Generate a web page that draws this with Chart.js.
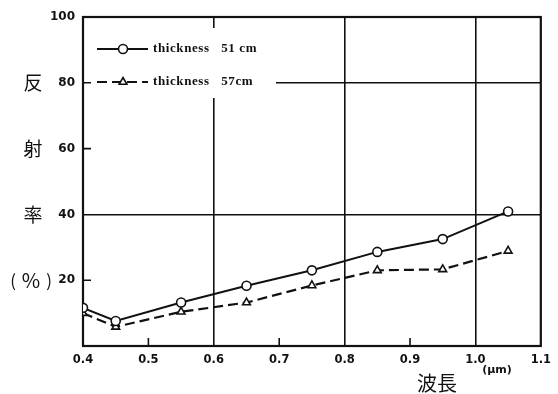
<!DOCTYPE html>
<html>
<head>
<meta charset="utf-8">
<script src="https://cdn.jsdelivr.net/npm/chart.js@4/dist/chart.umd.min.js"></script>
<style>
  html, body { margin: 0; padding: 0; background: #fff; }
  #wrap { width: 558px; height: 394px; }
</style>
</head>
<body>
<div id="wrap"><canvas id="c" width="558" height="394"></canvas></div>
<script>
// Wavelength (µm) and reflectance (%) for two sample thicknesses
const wavelengths = [0.4, 0.45, 0.55, 0.65, 0.75, 0.85, 0.95, 1.05];
const reflect51 = [11.6, 7.6, 13.2, 18.3, 23.0, 28.6, 32.5, 40.9];
const reflect57 = [10.0, 5.8, 10.4, 13.2, 18.4, 23.0, 23.3, 28.9];
const seriesLabels = ['thickness   51 cm', 'thickness   57cm'];
const xTicks = [0.4, 0.5, 0.6, 0.7, 0.8, 0.9, 1.0, 1.1];
const yTicks = [0, 20, 40, 60, 80, 100];
const yTitleChars = ['反', '射', '率'];
const yTitleUnit = ['(', '%', ')'];
const xTitle = '波長';
const xUnit = '(μm)';

// full-height reference lines; the remaining ticks get short inward marks
const gridX = [0.6, 0.8, 1.0];
const gridY = [40, 80];

const near = (a, list) => list.some(v => Math.abs(v - a) < 1e-6);
const toPoints = ys => ys.map((y, i) => ({ x: wavelengths[i], y }));

const framePlugin = {
  id: 'frame',
  beforeDatasetsDraw(chart) {
    const { ctx, chartArea: a, scales: { x, y } } = chart;
    ctx.save();
    ctx.strokeStyle = '#111';
    // inward tick marks
    ctx.lineWidth = 1.6;
    ctx.beginPath();
    xTicks.forEach(v => {
      if (near(v, gridX) || v === xTicks[0] || v === xTicks[xTicks.length - 1]) return;
      const px = x.getPixelForValue(v);
      ctx.moveTo(px, a.bottom); ctx.lineTo(px, a.bottom - 8);
    });
    yTicks.forEach(v => {
      if (near(v, gridY) || v === yTicks[0] || v === yTicks[yTicks.length - 1]) return;
      const py = y.getPixelForValue(v);
      ctx.moveTo(a.left, py); ctx.lineTo(a.left + 8, py);
    });
    ctx.stroke();
    // frame
    ctx.lineWidth = 2.2;
    ctx.strokeRect(a.left, a.top, a.right - a.left, a.bottom - a.top);
    ctx.restore();
  }
};

const legendPlugin = {
  id: 'boxLegend',
  beforeDatasetsDraw(chart) {
    const { ctx, chartArea: a } = chart;
    ctx.save();
    ctx.fillStyle = '#fff';
    ctx.fillRect(a.left + 8, a.top + 11, 185, 70);
    ctx.restore();
  },
  afterDatasetsDraw(chart) {
    const { ctx, chartArea: a } = chart;
    ctx.save();
    chart.data.datasets.forEach((ds, i) => {
      const yy = a.top + 32 + i * 33;
      const x0 = a.left + 14, x1 = a.left + 65, xm = a.left + 40;
      ctx.strokeStyle = ds.borderColor;
      ctx.lineWidth = ds.borderWidth;
      ctx.setLineDash(ds.borderDash || []);
      ctx.beginPath(); ctx.moveTo(x0, yy); ctx.lineTo(x1, yy); ctx.stroke();
      ctx.setLineDash([]);
      ctx.fillStyle = ds.pointBackgroundColor;
      ctx.strokeStyle = ds.pointBorderColor;
      ctx.lineWidth = ds.pointBorderWidth;
      Chart.helpers.drawPoint(ctx, {
        pointStyle: ds.pointStyle, radius: ds.pointRadius,
        rotation: 0, borderWidth: ds.pointBorderWidth
      }, xm, yy);
      ctx.fillStyle = '#111';
      ctx.font = 'bold 13px "Liberation Serif"';
      ctx.letterSpacing = '0.6px';
      ctx.textBaseline = 'middle';
      ctx.textAlign = 'left';
      ctx.fillText(ds.label, a.left + 70, yy);
    });
    ctx.restore();
  }
};

const titlePlugin = {
  id: 'axisTitles',
  afterDraw(chart) {
    const { ctx, scales: { y } } = chart;
    ctx.save();
    ctx.fillStyle = '#111';
    ctx.textAlign = 'center';
    ctx.textBaseline = 'middle';
    ctx.font = '19px "Noto Sans CJK JP"';
    yTitleChars.forEach((ch, i) => {
      ctx.fillText(ch, 33, y.getPixelForValue(yTicks[4 - i]));
    });
    const py = y.getPixelForValue(yTicks[1]);
    yTitleUnit.forEach((ch, i) => {
      ctx.font = (ch === '%' ? '20px' : '17px') + ' "Noto Sans CJK JP"';
      ctx.fillText(ch, 13 + i * 18, py);
    });
    ctx.font = '20px "Noto Sans CJK JP"';
    ctx.fillText(xTitle, 437, 383);
    ctx.font = 'bold 11px "DejaVu Sans"';
    ctx.fillText(xUnit, 497, 370);
    ctx.restore();
  }
};

new Chart(document.getElementById('c'), {
  type: 'line',
  data: {
    datasets: [
      {
        label: seriesLabels[0],
        data: toPoints(reflect51),
        borderColor: '#111',
        borderWidth: 2,
        pointStyle: 'circle',
        pointRadius: 4.5,
        pointBorderWidth: 1.6,
        pointBackgroundColor: '#fff',
        pointBorderColor: '#111',
        tension: 0
      },
      {
        label: seriesLabels[1],
        data: toPoints(reflect57),
        borderColor: '#111',
        borderWidth: 2.2,
        borderDash: [10, 5],
        pointStyle: 'triangle',
        pointRadius: 4.5,
        pointBorderWidth: 1.6,
        pointBackgroundColor: '#fff',
        pointBorderColor: '#111',
        tension: 0
      }
    ]
  },
  options: {
    responsive: false,
    animation: false,
    layout: { padding: { top: 17, right: 15, left: 0, bottom: 0 } },
    plugins: { legend: { display: false }, tooltip: { enabled: false } },
    scales: {
      x: {
        type: 'linear',
        min: 0.4,
        max: 1.1,
        afterBuildTicks: s => { s.ticks = xTicks.map(v => ({ value: v })); },
        afterFit: s => { s.height = 48; },
        border: { display: false },
        grid: {
          drawTicks: false,
          lineWidth: 1.6,
          color: c => (c.tick && near(c.tick.value, gridX)) ? '#111' : 'rgba(0,0,0,0)'
        },
        ticks: {
          padding: 7,
          color: '#111',
          font: { family: 'DejaVu Sans', size: 11.5, weight: 'bold' },
          callback: v => Number(v).toFixed(1)
        }
      },
      y: {
        min: 0,
        max: 100,
        afterBuildTicks: s => { s.ticks = yTicks.map(v => ({ value: v })); },
        afterFit: s => { s.width = 83; },
        border: { display: false },
        grid: {
          drawTicks: false,
          lineWidth: 1.6,
          color: c => (c.tick && near(c.tick.value, gridY)) ? '#111' : 'rgba(0,0,0,0)'
        },
        ticks: {
          padding: 8,
          color: '#111',
          font: { family: 'DejaVu Sans', size: 12, weight: 'bold' },
          callback: v => (v === 0 ? '' : v)
        }
      }
    }
  },
  plugins: [framePlugin, legendPlugin, titlePlugin]
});
</script>
</body>
</html>
